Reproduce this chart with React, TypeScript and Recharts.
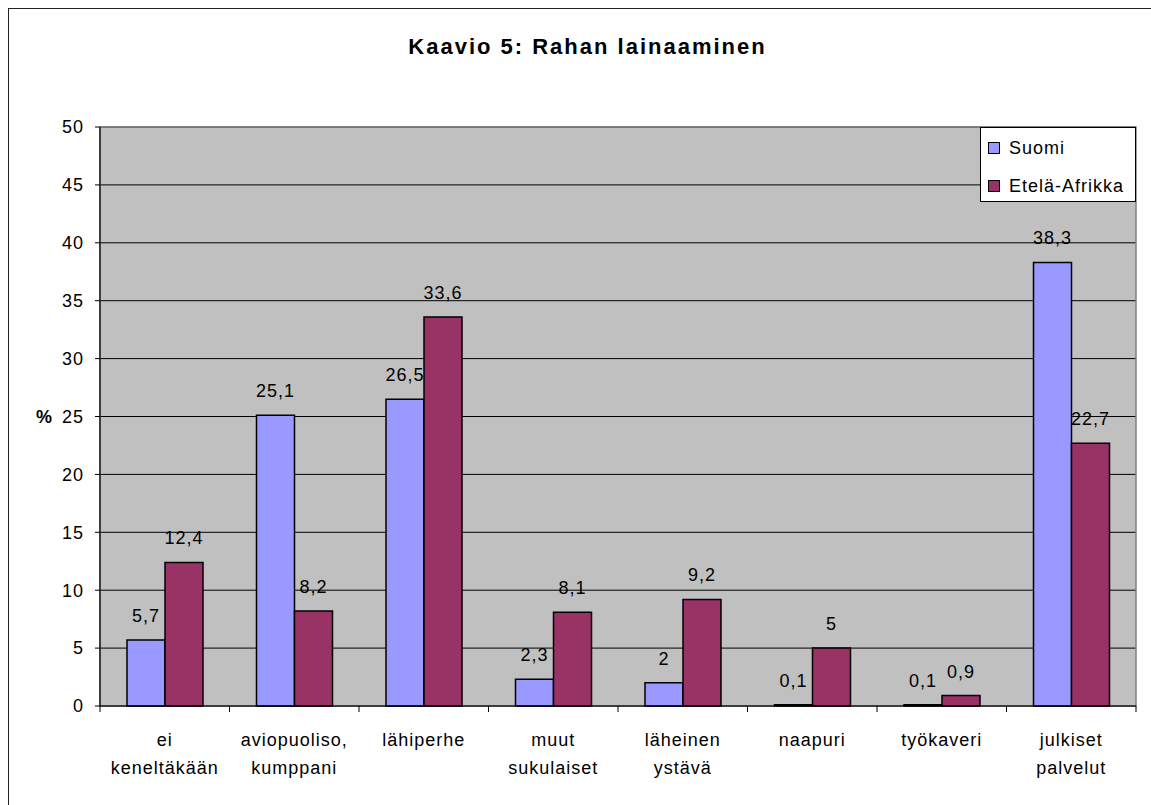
import React from 'react';
import { BarChart, Bar, XAxis, YAxis, CartesianGrid, ReferenceArea, LabelList } from 'recharts';

const categories = ['ei keneltäkään', 'aviopuoliso, kumppani', 'lähiperhe', 'muut sukulaiset', 'läheinen ystävä', 'naapuri', 'työkaveri', 'julkiset palvelut'];
const suomi = [5.7, 25.1, 26.5, 2.3, 2, 0.1, 0.1, 38.3];
const etelaAfrikka = [12.4, 8.2, 33.6, 8.1, 9.2, 5, 0.9, 22.7];
const yTicks = [0, 5, 10, 15, 20, 25, 30, 35, 40, 45, 50];
const seriesNames = ['Suomi', 'Etelä-Afrikka'];
const seriesColors = ['#9999FF', '#993366'];
const title = 'Kaavio 5: Rahan lainaaminen';
const yLabel = '%';

const data = categories.map((c, i) => ({ name: c, s0: suomi[i], s1: etelaAfrikka[i] }));

const FONT = '"Liberation Sans", Arial, sans-serif';
const W = 1151;
const H = 805;
const M = { top: 127, right: 15, bottom: 39, left: 40 };
const Y_W = 60;
const X_H = 60;
const plotW = W - M.left - Y_W - M.right;
const band = plotW / categories.length;

const fmt = (v: any) => String(v).replace('.', ',');

const XTick = (props: any) => {
  const { x, y, payload, index } = props;
  const lines = String(payload.value).split(' ');
  return (
    <g>
      <line x1={x - band / 2} x2={x - band / 2} y1={y} y2={y + 6} stroke="#000" strokeWidth={1} />
      {index === categories.length - 1 && (
        <line x1={x + band / 2} x2={x + band / 2} y1={y} y2={y + 6} stroke="#000" strokeWidth={1} />
      )}
      {lines.map((l, i) => (
        <text key={i} x={x} y={y + 40 + i * 28} textAnchor="middle" fontSize={18} fontFamily={FONT} letterSpacing={1} fill="#000">
          {l}
        </text>
      ))}
    </g>
  );
};

export default function App() {
  return (
    <div style={{ position: 'absolute', left: 0, top: 0, width: W, height: H, overflow: 'hidden', background: '#fff', fontFamily: FONT }}>
      <div style={{ position: 'absolute', left: 8, top: 8, width: W + 20, height: H + 20, border: '1.5px solid #222', boxSizing: 'border-box' }} />
      <div style={{ position: 'absolute', left: 0, width: 1175, top: 32, textAlign: 'center', fontSize: 22, fontWeight: 'bold', letterSpacing: 2, color: '#000', lineHeight: '30px' }}>
        {title}
      </div>
      <div style={{ position: 'absolute', left: 36, top: 405, fontSize: 18, fontWeight: 'bold', color: '#000', lineHeight: '24px' }}>
        {yLabel}
      </div>
      <div style={{ position: 'absolute', left: 0, top: 0 }}>
        <BarChart width={W} height={H} data={data} margin={M} barCategoryGap={27} barGap={0}>
          <CartesianGrid vertical={false} horizontal={true} stroke="#000" strokeWidth={1} fill="#C0C0C0" fillOpacity={1} />
          <ReferenceArea y1={0} y2={50} fill="none" stroke="#808080" strokeWidth={1.5} />
          <XAxis
            dataKey="name"
            height={X_H}
            interval={0}
            tick={<XTick />}
            tickLine={false}
            tickSize={0}
            tickMargin={0}
            axisLine={{ stroke: '#000', strokeWidth: 1.2 }}
          />
          <YAxis
            width={Y_W}
            domain={[0, 50]}
            ticks={yTicks}
            interval={0}
            tickSize={5}
            tickMargin={11}
            tickLine={{ stroke: '#000' }}
            axisLine={{ stroke: '#000', strokeWidth: 1.2 }}
            tick={{ fontSize: 18, fill: '#000', fontFamily: FONT, letterSpacing: 1 }}
          />
          {seriesNames.map((n, i) => (
            <Bar key={n} dataKey={'s' + i} name={n} fill={seriesColors[i]} stroke="#000" strokeWidth={1.5} isAnimationActive={false}>
              <LabelList dataKey={'s' + i} position="top" offset={18} formatter={fmt} style={{ fontSize: 18, fill: '#000', fontFamily: FONT, letterSpacing: 1 }} />
            </Bar>
          ))}
        </BarChart>
      </div>
      <div style={{ position: 'absolute', left: 980, top: 127, width: 156, height: 75, border: '1px solid #000', boxSizing: 'border-box', background: '#fff' }}>
        {seriesNames.map((n, i) => (
          <div key={n} style={{ position: 'absolute', left: 7, top: 8 + i * 38, height: 24, display: 'flex', alignItems: 'center' }}>
            <div style={{ width: 10, height: 10, border: '1px solid #000', background: seriesColors[i], marginRight: 9 }} />
            <span style={{ fontSize: 18, letterSpacing: 1, color: '#000', lineHeight: '24px' }}>{n}</span>
          </div>
        ))}
      </div>
    </div>
  );
}
